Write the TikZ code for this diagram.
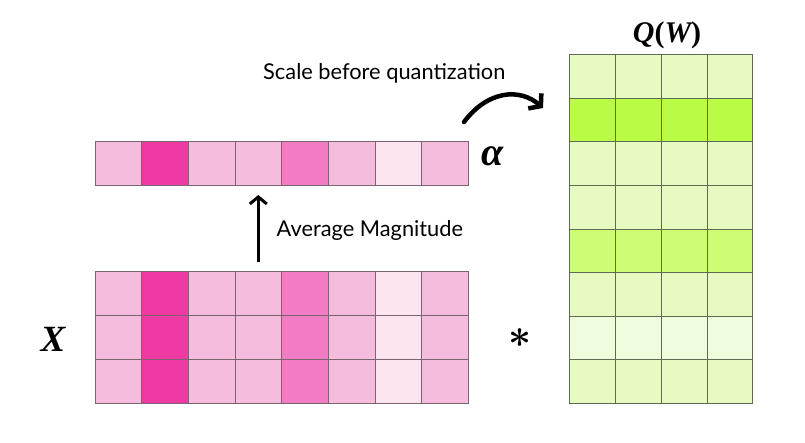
\documentclass[tikz,border=0pt]{standalone}
\usepackage{amsmath}
\usepackage{bm}
\usepackage{graphicx}
\usepackage{fontspec}
\newfontfamily\lato{Lato}
\newfontfamily\tnr{Liberation Serif}
\usetikzlibrary{arrows.meta}
\definecolor{pA}{HTML}{F6BCDD}
\definecolor{pB}{HTML}{EE3AA2}
\definecolor{pC}{HTML}{F27CC3}
\definecolor{pD}{HTML}{FCE5F1}
\definecolor{gA}{HTML}{E6FAC2}
\definecolor{gB}{HTML}{BAFC45}
\definecolor{gC}{HTML}{CCFE74}
\definecolor{gD}{HTML}{F0FDDD}
\definecolor{pline}{HTML}{7A6470}
\definecolor{gline}{HTML}{5E6A52}
\tikzset{
  pcell/.style={anchor=north west, inner sep=0pt, outer sep=0pt, minimum width=46.66pt, minimum height=43.9pt, draw=pline, line width=0.6pt},
  gcell/.style={anchor=north west, inner sep=0pt, outer sep=0pt, minimum width=45.85pt, minimum height=43.63pt, draw=gline, line width=0.6pt},
  txt/.style={font=\lato\fontsize{21.8}{24}\selectfont, inner sep=0pt, anchor=west},
  bigarrow/.style={line width=3pt, -{Straight Barb[length=7pt,width=17pt]}},
  curvearrow/.style={line width=4.5pt, line cap=round, -{Straight Barb[length=8pt,width=20pt]}},
  mlabel/.style={inner sep=0pt},
  sym/.style={inner sep=0pt, font=\tnr\bfseries\itshape\fontsize{37}{40}\selectfont}
}
\begin{document}
\begin{tikzpicture}[x=1pt,y=-1pt]
\useasboundingbox (0,0) rectangle (805,442);
% alpha row
\foreach \c [count=\i from 0] in {pA,pB,pA,pA,pC,pA,pD,pA} {
  \node[pcell, fill=\c, minimum height=44pt] (a\i) at (95+\i*46.66, 141) {};
}
% X matrix
\foreach \r in {0,1,2} {
  \foreach \c [count=\i from 0] in {pA,pB,pA,pA,pC,pA,pD,pA} {
    \node[pcell, fill=\c] (x\r\i) at (95+\i*46.66, 271.7+\r*43.9) {};
  }
}
% Q(W) matrix
\foreach \c [count=\r from 0] in {gA,gB,gA,gA,gC,gA,gD,gA} {
  \foreach \j in {0,1,2,3} {
    \node[gcell, fill=\c] (q\r\j) at (569.3+\j*45.85, 54.3+\r*43.63) {};
  }
}
% labels
\node[sym, font=\tnr\bfseries\itshape\fontsize{40}{42}\selectfont] (lalpha) at (493,156) {α};
\node[sym] (lx) at (53,339) {X};
\node[sym, font=\tnr\bfseries\itshape\fontsize{30}{32}\selectfont] (lq) at (667,35) {Q{\upshape(}W{\upshape)}};
\node[mlabel] (lstar) at (520,338.5) {\resizebox{23pt}{!}{$\bm{\ast}$}};
\node[txt] (tavg) at (276.5,230) {Average Magnitude};
\node[txt] (tscale) at (263,73) {Scale before quantization};
% arrows
\coordinate (u0) at (258.3,262);
\coordinate (u1) at (258.3,195);
\draw[bigarrow] (u0) -- (u1);
\coordinate (c0) at (464,122);
\coordinate (c1) at (543,108);
\draw[curvearrow] (c0) .. controls (488,90) and (520,88) .. (c1);
\end{tikzpicture}
\end{document}
